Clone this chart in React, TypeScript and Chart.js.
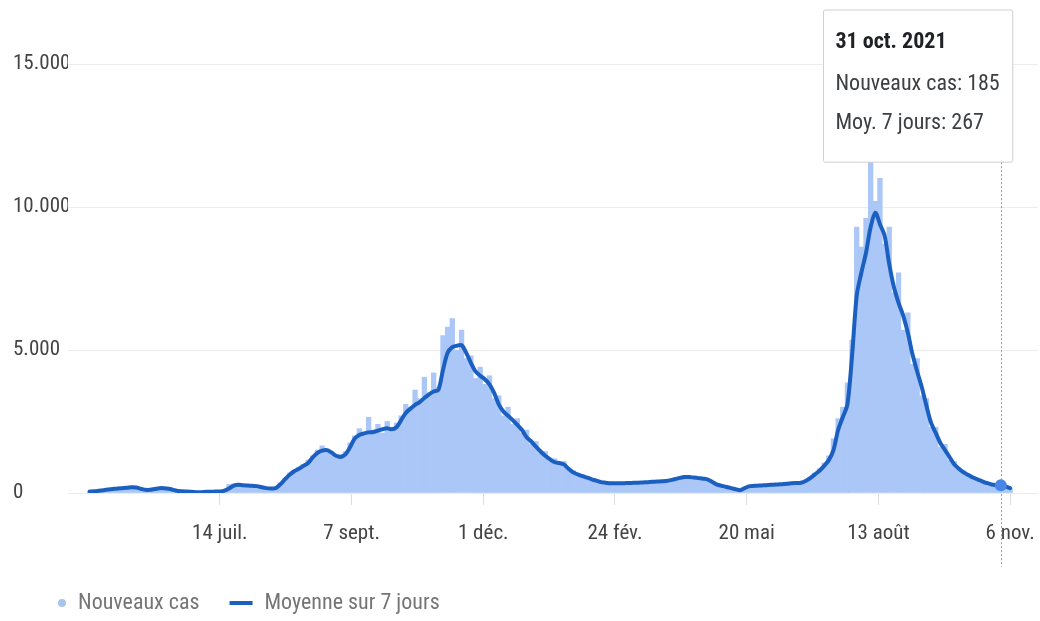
import React, { useEffect, useRef } from 'react';
import { Chart, registerables, Tooltip } from 'chart.js';

Chart.register(...registerables);

const FONT = "'Liberation Sans Narrow', 'Arial Narrow', 'Roboto Condensed', 'Liberation Sans', sans-serif";

// Sampling: every 3rd day, day 0 = 21 March 2020
const FIRST_DAY = 1;
const STEP = 3;
const START = { y: 2020, m: 2, d: 21 };
const HOVER_DAY = 589; // 31 oct. 2021

// 7-day average (Moyenne sur 7 jours)
const avg7: number[] = [
  50, 60, 80, 100, 120, 140, 160, 170, 180, 200,
  190, 150, 110, 110, 140, 170, 170, 150, 110, 70,
  60, 50, 40, 30, 30, 40, 40, 50, 50, 80,
  160, 260, 290, 270, 260, 250, 240, 200, 170, 160,
  170, 300, 480, 640, 760, 850, 950, 1050, 1250, 1400,
  1480, 1500, 1420, 1300, 1260, 1350, 1600, 1900, 2030, 2080,
  2120, 2130, 2180, 2230, 2260, 2230, 2300, 2550, 2800, 2950,
  3080, 3180, 3320, 3450, 3550, 3600, 4300, 4900, 5100, 5150,
  5170, 4900, 4550, 4250, 4100, 3980, 3800, 3500, 3100, 2850,
  2700, 2550, 2380, 2200, 1950, 1800, 1620, 1450, 1300, 1180,
  1080, 1050, 1000, 850, 720, 650, 590, 540, 480, 430,
  380, 360, 340, 340, 340, 345, 350, 355, 360, 370,
  380, 390, 400, 410, 420, 450, 490, 530, 560, 560,
  540, 520, 500, 470, 380, 290, 250, 210, 170, 130,
  100, 180, 240, 250, 260, 270, 280, 290, 300, 310,
  320, 340, 350, 360, 420, 520, 650, 780, 950, 1150,
  1500, 2200, 2650, 3100, 4800, 6900, 7700, 8400, 9300, 9800,
  9400, 9000, 8000, 7200, 6650, 6200, 5600, 4850, 4250, 3700,
  3050, 2450, 2100, 1750, 1500, 1250, 1000, 850, 720, 630,
  540, 480, 410, 350, 300, 280, 267, 230, 170,
];

// Daily new cases (Nouveaux cas)
const newCases: number[] = [
  60, 70, 90, 110, 130, 150, 170, 190, 160, 220,
  180, 130, 100, 120, 160, 180, 160, 140, 100, 60,
  70, 45, 35, 30, 35, 45, 40, 55, 60, 100,
  300, 320, 260, 280, 240, 270, 230, 190, 150, 180,
  200, 360, 520, 700, 800, 900, 1000, 1150, 1300, 1500,
  1650, 1550, 1450, 1250, 1350, 1450, 1750, 2000, 2250, 2000,
  2650, 2200, 2400, 2100, 2500, 2300, 2450, 2700, 3100, 2900,
  3600, 3300, 4050, 3500, 4200, 3700, 5500, 5800, 6100, 5000,
  5700, 4700, 4800, 4000, 4400, 3800, 4100, 3300, 3400, 2700,
  3000, 2400, 2600, 2100, 2200, 1700, 1800, 1400, 1450, 1100,
  1200, 1000, 1100, 800, 780, 600, 640, 500, 520, 400,
  420, 330, 380, 320, 370, 330, 380, 340, 390, 350,
  410, 370, 430, 390, 450, 430, 540, 510, 600, 530,
  580, 490, 540, 440, 400, 260, 270, 190, 180, 110,
  90, 200, 230, 270, 250, 290, 260, 310, 280, 330,
  300, 370, 330, 390, 450, 560, 700, 850, 1050, 1300,
  1900, 2600, 3000, 3850, 5350, 9300, 8600, 9600, 11700, 10200,
  11000, 8700, 9300, 7000, 7700, 5700, 6300, 4500, 4700, 3400,
  3300, 2300, 2300, 1600, 1700, 1150, 1100, 800, 780, 580,
  590, 440, 450, 320, 330, 260, 185, 240, 160,
];

const sampleDays: number[] = avg7.map((_, i) => FIRST_DAY + STEP * i);

const tickDays = [85, 170, 255, 340, 425, 510, 595];
const tickLabels = ['14 juil.', '7 sept.', '1 déc.', '24 fév.', '20 mai', '13 août', '6 nov.'];
const yTicks = [0, 5000, 10000, 15000];
const yTickLabels = ['0', '5.000', '10.000', '15.000'];
const MONTHS = ['janv.', 'févr.', 'mars', 'avr.', 'mai', 'juin', 'juil.', 'août', 'sept.', 'oct.', 'nov.', 'déc.'];

const fmt = (v: number) => String(Math.round(v)).replace(/\B(?=(\d{3})+(?!\d))/g, '.');
const dateLabel = (day: number) => {
  const d = new Date(START.y, START.m, START.d + day);
  return `${d.getDate()} ${MONTHS[d.getMonth()]} ${d.getFullYear()}`;
};

const BAR_COLOR = '#aac7f7';
const LINE_COLOR = '#1b5fc0';

(Tooltip as any).positioners.fixedTop = function (items: any[]) {
  const it = items.find((i) => i.datasetIndex === 1) || items[0];
  if (!it) return false;
  return { x: it.element.x + 8, y: 10 };
};

const crosshair = {
  id: 'crosshair',
  beforeDatasetsDraw(chart: any) {
    const tt = chart.tooltip;
    const act = tt && tt.getActiveElements ? tt.getActiveElements() : [];
    if (!act.length) return;
    const x = Math.round(act[0].element.x) + 0.5;
    const ctx = chart.ctx;
    ctx.save();
    ctx.strokeStyle = '#9a9a9a';
    ctx.lineWidth = 1;
    ctx.setLineDash([2, 2]);
    ctx.beginPath();
    ctx.moveTo(x, tt.y + tt.height);
    ctx.lineTo(x, chart.chartArea.bottom + 74);
    ctx.stroke();
    ctx.restore();
  },
};

function makeMarker(kind: 'circle' | 'line') {
  const c = document.createElement('canvas');
  c.width = 60;
  c.height = 10;
  const g = c.getContext('2d')!;
  if (kind === 'circle') {
    g.fillStyle = '#a9c3ef';
    g.beginPath();
    g.arc(52, 5, 4, 0, Math.PI * 2);
    g.fill();
  } else {
    g.fillStyle = LINE_COLOR;
    g.fillRect(33, 3, 23, 4);
  }
  return c;
}

export default function App() {
  const ref = useRef<HTMLCanvasElement>(null);

  useEffect(() => {
    if (!ref.current) return;
    const circleImg = makeMarker('circle');
    const lineImg = makeMarker('line');

    const chart = new Chart(ref.current, {
      type: 'bar',
      data: {
        datasets: [
          {
            type: 'bar',
            label: 'Nouveaux cas',
            data: sampleDays.map((d, i) => ({ x: d, y: newCases[i] })),
            backgroundColor: BAR_COLOR,
            hoverBackgroundColor: BAR_COLOR,
            borderWidth: 0,
            barPercentage: 1,
            categoryPercentage: 1,
            order: 1,
          } as any,
          {
            type: 'line',
            label: 'Moyenne sur 7 jours',
            data: sampleDays.map((d, i) => ({ x: d, y: avg7[i] })),
            borderColor: LINE_COLOR,
            backgroundColor: LINE_COLOR,
            borderWidth: 4,
            pointRadius: 0,
            pointHoverRadius: 6,
            pointHoverBackgroundColor: '#4a86e8',
            pointHoverBorderColor: '#4a86e8',
            pointHoverBorderWidth: 0,
            tension: 0.3,
            fill: false,
            borderJoinStyle: 'round',
            borderCapStyle: 'round',
            order: 0,
          } as any,
        ],
      },
      options: {
        animation: false,
        responsive: true,
        maintainAspectRatio: false,
        events: [],
        layout: { padding: { top: 64, left: 13, right: 0, bottom: -3 } },
        scales: {
          x: {
            type: 'linear',
            min: -13,
            max: 613,
            offset: false,
            afterBuildTicks: (axis: any) => {
              axis.ticks = tickDays.map((v) => ({ value: v }));
            },
            afterFit: (axis: any) => {
              axis.height = 99;
              axis.paddingRight = 0;
              axis.paddingLeft = 0;
            },
            grid: { drawOnChartArea: false, drawTicks: true, tickLength: 12, color: '#dddddd', offset: false },
            border: { display: false },
            ticks: {
              autoSkip: false,
              maxRotation: 0,
              padding: 16,
              color: '#444444',
              font: { family: FONT, size: 21 },
              callback: (v: any) => tickLabels[tickDays.indexOf(Number(v))] ?? '',
            },
          },
          y: {
            min: 0,
            max: 15000,
            afterBuildTicks: (axis: any) => {
              axis.ticks = yTicks.map((v) => ({ value: v }));
            },
            afterFit: (axis: any) => {
              axis.width = 55;
            },
            grid: { color: '#ececec', lineWidth: 1, drawTicks: false },
            border: { display: false },
            ticks: {
              crossAlign: 'far',
              padding: 0,
              color: '#444444',
              font: { family: FONT, size: 21 },
              callback: (v: any) => yTickLabels[yTicks.indexOf(Number(v))] ?? '',
            },
          },
        },
        plugins: {
          legend: {
            position: 'bottom',
            align: 'start',
            labels: {
              usePointStyle: true,
              pointStyleWidth: 54,
              boxWidth: 54,
              boxHeight: 22,
              padding: 0,
              color: '#757575',
              font: { family: FONT, size: 22 },
              sort: (a: any, b: any) => a.datasetIndex - b.datasetIndex,
              generateLabels: (c: any) => {
                const items = (Chart.defaults.plugins.legend.labels as any).generateLabels(c);
                return items.map((it: any) => ({
                  ...it,
                  pointStyle: it.datasetIndex === 0 ? circleImg : lineImg,
                }));
              },
            },
          },
          tooltip: {
            enabled: true,
            position: 'fixedTop' as any,
            xAlign: 'right',
            yAlign: 'top',
            backgroundColor: '#ffffff',
            borderColor: '#cfcfcf',
            borderWidth: 1,
            cornerRadius: 2,
            caretSize: 0,
            caretPadding: 0,
            displayColors: false,
            titleColor: '#202124',
            bodyColor: '#3c4043',
            titleFont: { family: FONT, size: 22, weight: 'bold' },
            bodyFont: { family: FONT, size: 22 },
            padding: { top: 19, bottom: 26, left: 12, right: 13 },
            titleMarginBottom: 16,
            bodySpacing: 12,
            itemSort: (a: any, b: any) => a.datasetIndex - b.datasetIndex,
            callbacks: {
              title: (items: any[]) => (items.length ? dateLabel(items[0].parsed.x) : ''),
              label: (ctx: any) =>
                ctx.datasetIndex === 0
                  ? `Nouveaux cas: ${fmt(ctx.parsed.y)}`
                  : `Moy. 7 jours: ${fmt(ctx.parsed.y)}`,
            },
          },
        },
      } as any,
      plugins: [crosshair],
    });

    const idx = sampleDays.indexOf(HOVER_DAY);
    const el: any = chart.getDatasetMeta(1).data[idx];
    chart.setActiveElements([{ datasetIndex: 1, index: idx }]);
    chart.tooltip!.setActiveElements(
      [
        { datasetIndex: 0, index: idx },
        { datasetIndex: 1, index: idx },
      ],
      { x: el.x, y: el.y }
    );
    chart.update();

    return () => chart.destroy();
  }, []);

  return (
    <div style={{ position: 'fixed', left: 0, top: 0, width: 1040, height: 621, background: '#ffffff' }}>
      <canvas ref={ref} />
    </div>
  );
}
